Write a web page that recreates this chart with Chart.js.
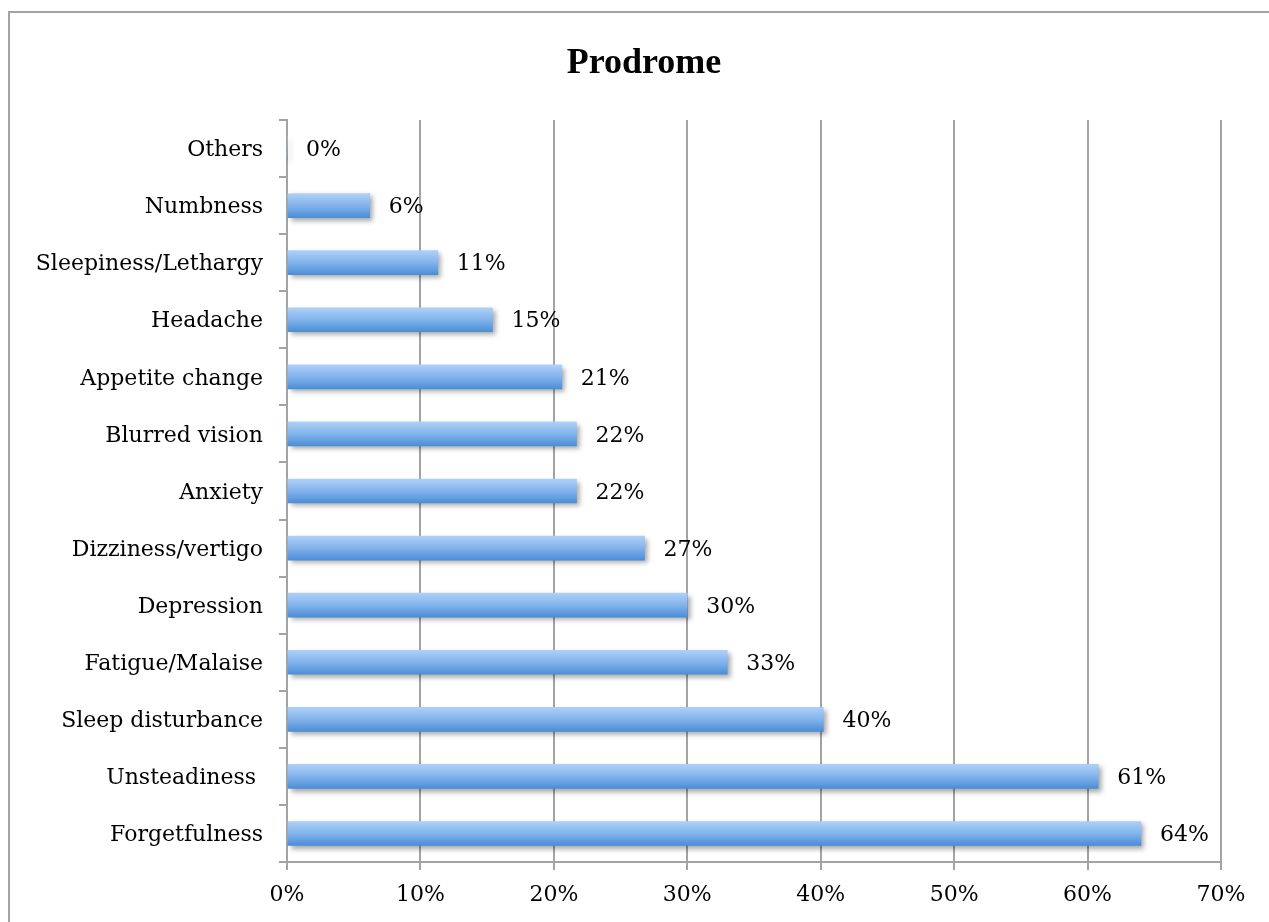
<!DOCTYPE html>
<html>
<head>
<meta charset="utf-8">
<title>Prodrome</title>
<script src="https://cdn.jsdelivr.net/npm/chart.js@4.4.1/dist/chart.umd.min.js"></script>
<style>
    html, body { margin: 0; padding: 0; background: #fff; }
    canvas { display: block; }
    .font-warm { position: absolute; left: -9999px; top: 0; }
</style>
</head>
<body>
<canvas id="prodromeChart" width="1269" height="922"></canvas>
<span class="font-warm" style="font: bold 36px 'Liberation Serif'">Prodrome</span>
<span class="font-warm" style="font: 22px 'DejaVu Serif'">0%</span>
<script>
// Síntomas prodrómicos (de arriba hacia abajo) y porcentaje de pacientes
const chartTitle = 'Prodrome';
const symptoms = [
    'Others',
    'Numbness',
    'Sleepiness/Lethargy',
    'Headache',
    'Appetite change',
    'Blurred vision',
    'Anxiety',
    'Dizziness/vertigo',
    'Depression',
    'Fatigue/Malaise',
    'Sleep disturbance',
    'Unsteadiness ',
    'Forgetfulness'
];
const percentages = [0, 6.2, 11.3, 15.4, 20.6, 21.7, 21.7, 26.8, 30.0, 33.0, 40.2, 60.8, 64.0];
const axisMax = 70;
const axisStep = 10;

const labelFont = { family: '"DejaVu Serif", serif', size: 22 };
const titleFont = 'bold 36px "Liberation Serif", "Times New Roman", serif';
const BAR_H = 24;

// Degradado vertical de cada barra
function barGradient(c) {
    const chart = c.chart;
    const yScale = chart.scales.y;
    if (!chart.chartArea || !yScale) return '#6fa8e8';
    const cy = yScale.getPixelForValue(c.dataIndex);
    const g = chart.ctx.createLinearGradient(0, cy - BAR_H / 2, 0, cy + BAR_H / 2);
    g.addColorStop(0, '#aed0f8');
    g.addColorStop(0.5, '#82b3ec');
    g.addColorStop(1, '#4b8ed7');
    return g;
}

// Marco, título y sombra de las barras
const decorPlugin = {
    id: 'decor',
    beforeDraw(chart) {
        const ctx = chart.ctx;
        ctx.save();
        ctx.strokeStyle = '#a3a3a3';
        ctx.lineWidth = 2;
        ctx.strokeRect(9, 12, chart.width + 20, chart.height + 20);
        ctx.fillStyle = '#000';
        ctx.font = titleFont;
        ctx.textAlign = 'center';
        ctx.textBaseline = 'middle';
        ctx.fillText(chartTitle, 644, 64);
        ctx.restore();
    },
    beforeDatasetDraw(chart) {
        const ctx = chart.ctx;
        ctx.save();
        ctx.shadowColor = 'rgba(0, 0, 0, 0.35)';
        ctx.shadowOffsetX = 3;
        ctx.shadowOffsetY = 3;
        ctx.shadowBlur = 5;
    },
    afterDatasetDraw(chart) {
        chart.ctx.restore();
    }
};

// Etiquetas de valor al final de cada barra
const valueLabels = {
    id: 'valueLabels',
    afterDatasetsDraw(chart) {
        const ctx = chart.ctx;
        const meta = chart.getDatasetMeta(0);
        ctx.save();
        ctx.fillStyle = '#000';
        ctx.font = labelFont.size + 'px ' + labelFont.family;
        ctx.textAlign = 'left';
        ctx.textBaseline = 'middle';
        meta.data.forEach((bar, i) => {
            ctx.fillText(Math.round(percentages[i]) + '%', bar.x + 19, bar.y + 2);
        });
        ctx.restore();
    }
};

function drawChart() {
    new Chart(document.getElementById('prodromeChart'), {
        type: 'bar',
        data: {
            labels: symptoms,
            datasets: [{
                data: percentages,
                backgroundColor: barGradient,
                borderWidth: 0,
                barThickness: BAR_H
            }]
        },
        options: {
            indexAxis: 'y',
            responsive: false,
            animation: false,
            layout: { padding: { top: 120, right: 48, bottom: 0, left: 0 } },
            plugins: {
                legend: { display: false },
                tooltip: { enabled: false },
                title: { display: false }
            },
            scales: {
                x: {
                    min: 0,
                    max: axisMax,
                    ticks: {
                        stepSize: axisStep,
                        color: '#000',
                        font: labelFont,
                        padding: 12,
                        callback: v => v + '%'
                    },
                    grid: {
                        color: '#a3a3a3',
                        lineWidth: 2,
                        tickLength: 8
                    },
                    border: { color: '#a3a3a3', width: 2 },
                    afterFit(scale) { scale.height = 60; }
                },
                y: {
                    ticks: {
                        color: '#000',
                        font: labelFont,
                        padding: 16,
                        labelOffset: 2
                    },
                    grid: {
                        drawOnChartArea: false,
                        color: '#a3a3a3',
                        lineWidth: 2,
                        tickLength: 8,
                        offset: true
                    },
                    border: { color: '#a3a3a3', width: 2 },
                    afterFit(scale) { scale.width = 287; }
                }
            }
        },
        plugins: [decorPlugin, valueLabels]
    });
}

// Esperar a que las fuentes estén listas antes de dibujar
Promise.all([
    document.fonts.load(titleFont),
    document.fonts.load(labelFont.size + 'px ' + labelFont.family)
]).then(drawChart, drawChart);
</script>
</body>
</html>
